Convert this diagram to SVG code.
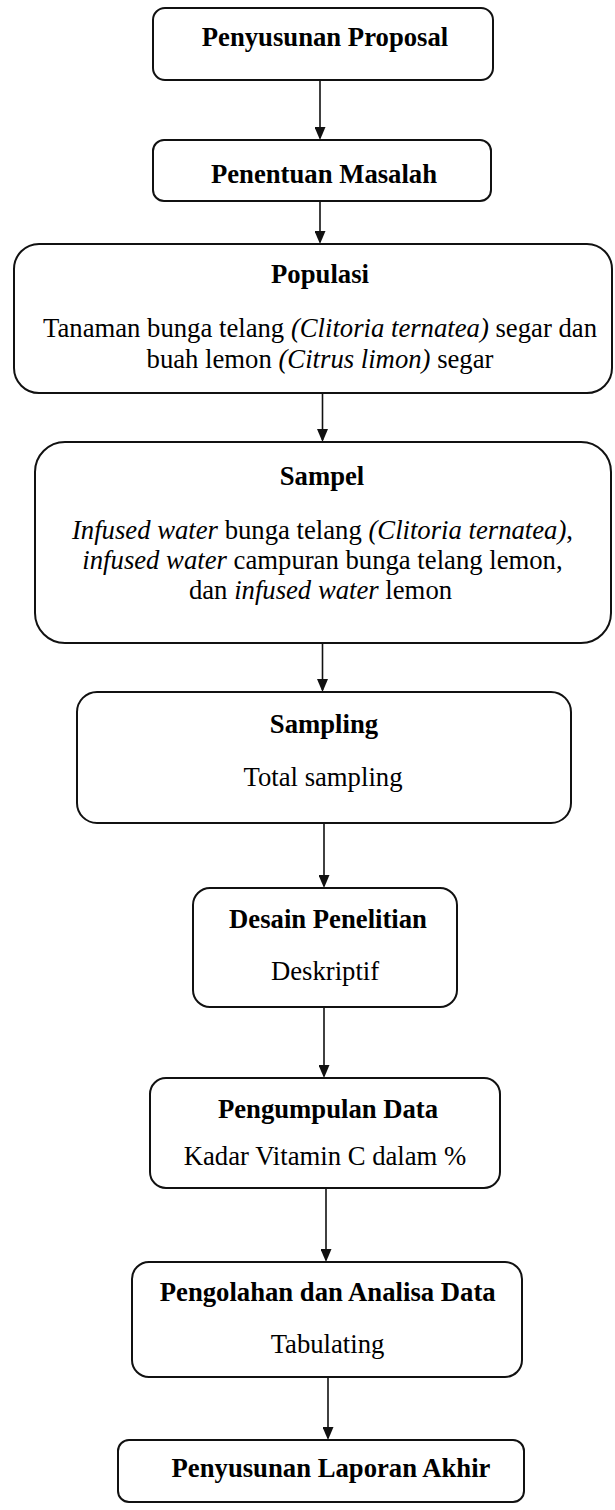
<svg xmlns="http://www.w3.org/2000/svg" width="615" height="1510" viewBox="0 0 615 1510">
<style>
.box{fill:#fff;stroke:#111;stroke-width:2}
.t{font-family:"Liberation Serif","Times New Roman",serif;font-size:26.7px;fill:#000;text-anchor:middle}
.b{font-weight:bold}
.i{font-style:italic}
.conn{stroke:#111;stroke-width:1.6;fill:none}
</style>
<defs>
<marker id="ah" markerUnits="userSpaceOnUse" viewBox="0 0 13 11" refX="11" refY="5.5" markerWidth="13" markerHeight="11" orient="auto">
<path d="M0,0 L13,5.5 L0,11 z" fill="#111"/>
</marker>
</defs>
<rect width="615" height="1510" fill="#fff"/>
<g id="connectors">
<line class="conn" x1="320" y1="80" x2="320" y2="138" marker-end="url(#ah)"/>
<line class="conn" x1="320" y1="201" x2="320" y2="242" marker-end="url(#ah)"/>
<line class="conn" x1="322.5" y1="393" x2="322.5" y2="440" marker-end="url(#ah)"/>
<line class="conn" x1="322.5" y1="643" x2="322.5" y2="690" marker-end="url(#ah)"/>
<line class="conn" x1="324" y1="823" x2="324" y2="886" marker-end="url(#ah)"/>
<line class="conn" x1="324" y1="1007" x2="324" y2="1076" marker-end="url(#ah)"/>
<line class="conn" x1="326" y1="1188" x2="326" y2="1260" marker-end="url(#ah)"/>
<line class="conn" x1="328" y1="1377" x2="328" y2="1438" marker-end="url(#ah)"/>
</g>
<g id="n1">
<rect class="box" x="153" y="8" width="340" height="72" rx="12"/>
<text class="t b" x="325" y="46">Penyusunan Proposal</text>
</g>
<g id="n2">
<rect class="box" x="153" y="140" width="338" height="61" rx="11"/>
<text class="t b" x="324" y="183">Penentuan Masalah</text>
</g>
<g id="n3">
<rect class="box" x="14" y="244" width="598" height="149" rx="25"/>
<text class="t b" x="320" y="283">Populasi</text>
<text class="t" x="320" y="337">Tanaman bunga telang <tspan class="i">(Clitoria ternatea)</tspan> segar dan</text>
<text class="t" x="320" y="368">buah lemon <tspan class="i">(Citrus limon)</tspan> segar</text>
</g>
<g id="n4">
<rect class="box" x="35" y="442" width="576" height="201" rx="30"/>
<text class="t b" x="322" y="485">Sampel</text>
<text class="t" x="322.5" y="539"><tspan class="i">Infused water</tspan> bunga telang <tspan class="i">(Clitoria ternatea)</tspan>,</text>
<text class="t" x="322.5" y="569"><tspan class="i">infused water</tspan> campuran bunga telang lemon,</text>
<text class="t" x="320.5" y="599">dan <tspan class="i">infused water</tspan> lemon</text>
</g>
<g id="n5">
<rect class="box" x="77" y="692" width="494" height="131" rx="20"/>
<text class="t b" x="324" y="733">Sampling</text>
<text class="t" x="323" y="786">Total sampling</text>
</g>
<g id="n6">
<rect class="box" x="193" y="888" width="264" height="119" rx="17"/>
<text class="t b" x="328" y="928">Desain Penelitian</text>
<text class="t" x="325" y="980">Deskriptif</text>
</g>
<g id="n7">
<rect class="box" x="150" y="1078" width="350" height="110" rx="16"/>
<text class="t b" x="328" y="1118">Pengumpulan Data</text>
<text class="t" x="325" y="1165">Kadar Vitamin C dalam %</text>
</g>
<g id="n8">
<rect class="box" x="132" y="1262" width="390" height="115" rx="17"/>
<text class="t b" x="327.7" y="1301">Pengolahan dan Analisa Data</text>
<text class="t" x="327.5" y="1353">Tabulating</text>
</g>
<g id="n9">
<rect class="box" x="118" y="1440" width="406" height="62" rx="11"/>
<text class="t b" x="331" y="1477">Penyusunan Laporan Akhir</text>
</g>
</svg>
